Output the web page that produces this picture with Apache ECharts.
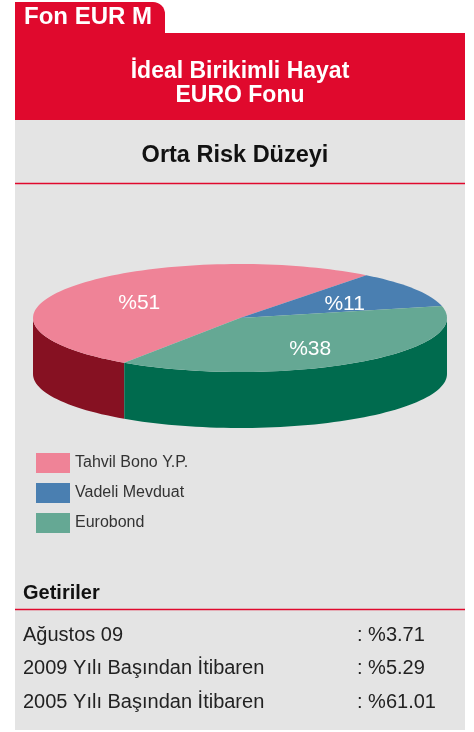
<!DOCTYPE html>
<html>
<head>
<meta charset="utf-8">
<title>Fon EUR M</title>
<script src="https://cdn.jsdelivr.net/npm/echarts@6/dist/echarts.min.js"></script>
<style>
html,body{margin:0;padding:0;background:#fff;}
#main{width:474px;height:732px;}
</style>
</head>
<body>
<div id="main"></div>
<script>
// fon dağılımı
var fundNames = ['Tahvil Bono Y.P.', 'Vadeli Mevduat', 'Eurobond'];
var fundShares = [51, 11, 38];

// getiriler
var returnLabels = ['Ağustos 09', '2009 Yılı Başından İtibaren', '2005 Yılı Başından İtibaren'];
var returnValues = [3.71, 5.29, 61.01];

var COLOR = {
	RED: '#E0092D',
	PANEL: '#E4E4E4',
	TOP: ['#EF8397', '#4A7FB1', '#65A894'],
	SIDE: ['#861122', '#2E5A85', '#006B4E']
};
var FONT = '"Liberation Sans", Arial, Helvetica, sans-serif';

var pie = {
	cx: 240,     //merkez x
	cy: 318,     //merkez y
	rx: 207,
	ry: 54,
	depth: 56,   //yan yüzey yüksekliği
	start: 124   //ilk dilimin başlangıç açısı (saat yönünde)
};

function sliceAngles(){
	var total = 0, arr = [], a = pie.start, i;
	for (i = 0; i < fundShares.length; i++) total += fundShares[i];
	for (i = 0; i < fundShares.length; i++){
		var sweep = fundShares[i] / total * 360;
		arr.push([a, a + sweep]);
		a += sweep;
	}
	return arr;
}
var angles = sliceAngles();

function ellipsePt(deg, dy, f){
	var t = deg * Math.PI / 180;
	f = f || 1;
	return [pie.cx + pie.rx * f * Math.cos(t), pie.cy + pie.ry * f * Math.sin(t) + (dy || 0)];
}

function arcPts(a1, a2, dy){
	var pts = [], n = Math.max(2, Math.ceil((a2 - a1) / 2));
	for (var k = 0; k <= n; k++) pts.push(ellipsePt(a1 + (a2 - a1) * k / n, dy));
	return pts;
}

function makeRenderer(i){
	return function(params, api){
		var a1 = angles[i][0], a2 = angles[i][1];
		var children = [];
		// sadece ön yarıdaki yan yüzey görünür
		[-360, 0, 360].forEach(function(off){
			var lo = Math.max(a1 + off, 0), hi = Math.min(a2 + off, 180);
			if (hi > lo){
				children.push({
					type: 'polygon',
					z2: 1,
					shape: {points: arcPts(lo, hi, 0).concat(arcPts(lo, hi, pie.depth).reverse())},
					style: {fill: COLOR.SIDE[i]}
				});
			}
		});
		children.push({
			type: 'polygon',
			z2: 2,
			shape: {points: [[pie.cx, pie.cy]].concat(arcPts(a1, a2, 0))},
			style: {fill: COLOR.TOP[i]}
		});
		var p = ellipsePt((a1 + a2) / 2, 4, 0.6);
		children.push({
			type: 'text',
			z2: 3,
			x: p[0],
			y: p[1],
			style: {
				text: '%' + api.value(0),
				fill: '#fff',
				font: '21px ' + FONT,
				align: 'center', verticalAlign: 'middle',
				textAlign: 'center', textVerticalAlign: 'middle'
			}
		});
		return {type: 'group', children: children};
	};
}

function txt(text, x, y, font, color, align){
	return {
		type: 'text',
		x: x,
		y: y,
		z: 5,
		style: {
			text: text,
			font: font,
			fill: color,
			align: align || 'left', verticalAlign: 'middle',
			textAlign: align || 'left', textVerticalAlign: 'middle'
		}
	};
}

function line(y){
	return {
		type: 'line',
		z: 1,
		shape: {x1: 15, y1: y, x2: 465, y2: y},
		style: {stroke: COLOR.RED, lineWidth: 1.5}
	};
}

function buildGraphic(){
	var g = [
		{type: 'rect', z: 0, shape: {x: 15, y: 2, width: 150, height: 40, r: [0, 12, 0, 0]}, style: {fill: COLOR.RED}},
		{type: 'rect', z: 0, shape: {x: 15, y: 33, width: 450, height: 87}, style: {fill: COLOR.RED}},
		{type: 'rect', z: 0, shape: {x: 15, y: 120, width: 450, height: 610}, style: {fill: COLOR.PANEL}},
		txt('Fon EUR M', 24, 17, 'bold 24px ' + FONT, '#fff'),
		txt('İdeal Birikimli Hayat', 240, 72, 'bold 23px ' + FONT, '#fff', 'center'),
		txt('EURO Fonu', 240, 96, 'bold 23px ' + FONT, '#fff', 'center'),
		txt('Orta Risk Düzeyi', 235, 156, 'bold 23.5px ' + FONT, '#111', 'center'),
		line(183.5),
		txt('Getiriler', 23, 593, 'bold 20px ' + FONT, '#111'),
		line(609.5)
	];
	var rowY = [635, 668, 702];
	for (var i = 0; i < returnLabels.length; i++){
		g.push(txt(returnLabels[i], 23, rowY[i], '20px ' + FONT, '#222'));
		g.push(txt(': %' + returnValues[i].toFixed(2), 357, rowY[i], '20px ' + FONT, '#222'));
	}
	return g;
}

var myChart = echarts.init(document.getElementById('main'), null, {renderer: 'canvas'});
myChart.setOption({
	animation: false,
	backgroundColor: '#fff',
	graphic: {elements: buildGraphic()},
	legend: {
		left: 36,
		top: 453,
		padding: 0,
		orient: 'vertical',
		icon: 'rect',
		itemWidth: 34,
		itemHeight: 20,
		itemGap: 10,
		selectedMode: false,
		textStyle: {fontSize: 16, color: '#333', fontFamily: FONT},
		data: fundNames
	},
	series: fundNames.map(function(name, i){
		return {
			type: 'custom',
			name: name,
			coordinateSystem: 'none',
			silent: true,
			z: 2,
			itemStyle: {color: COLOR.TOP[i]},
			renderItem: makeRenderer(i),
			data: [fundShares[i]]
		};
	})
});
</script>
</body>
</html>
